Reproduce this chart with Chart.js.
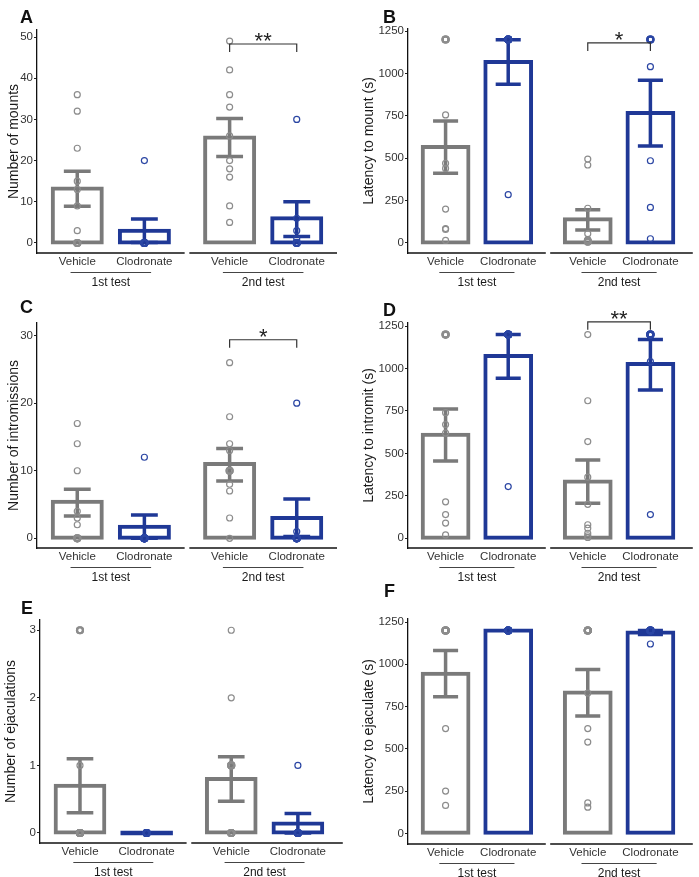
<!DOCTYPE html>
<html>
<head>
<meta charset="utf-8">
<title>Sexual behaviour after clodronate</title>
<script src="https://cdn.jsdelivr.net/npm/chart.js@4.4.1/dist/chart.umd.min.js"></script>
<style>
  body { margin: 0; background: #fff; }
  #figure { position: relative; width: 699px; height: 877px; overflow: hidden; background: #fff; }
  .panel { position: absolute; }
  .letter { position: absolute; font: bold 18px 'Liberation Sans', Arial, sans-serif; line-height: 18px; color: #111; }
</style>
</head>
<body>
<div id="figure">
  <canvas id="chartA" class="panel" width="349" height="300" style="left:0;top:0"></canvas>
  <canvas id="chartB" class="panel" width="350" height="300" style="left:349px;top:0"></canvas>
  <canvas id="chartC" class="panel" width="349" height="300" style="left:0;top:290px"></canvas>
  <canvas id="chartD" class="panel" width="350" height="300" style="left:349px;top:290px"></canvas>
  <canvas id="chartE" class="panel" width="349" height="297" style="left:0;top:580px"></canvas>
  <canvas id="chartF" class="panel" width="350" height="297" style="left:349px;top:580px"></canvas>
  <div class="letter" style="left:20px;top:8px">A</div>
  <div class="letter" style="left:383px;top:8px">B</div>
  <div class="letter" style="left:20px;top:298px">C</div>
  <div class="letter" style="left:383px;top:301px">D</div>
  <div class="letter" style="left:21px;top:599px">E</div>
  <div class="letter" style="left:384px;top:582px">F</div>
</div>
<script>
// Categories shared by every panel
const groupNames = ['Vehicle', 'Clodronate', 'Vehicle', 'Clodronate'];
const testNames = ['1st test', '2nd test'];
const groupX = [1, 2, 3.27, 4.27];

// A - number of mounts
const mountsMean = [13.2, 3.0, 25.6, 6.0];
const mountsLow = [8.9, 0.1, 21.0, 1.6];
const mountsHigh = [17.4, 5.8, 30.2, 10.0];
const mountsPoints = [
    [36, 32, 23, 15, 13, 9, 3, 0, 0, 0],
    [20, 0, 0, 0, 0, 0, 0],
    [49, 42, 36, 33, 26, 20, 18, 16, 9, 5],
    [30, 6, 3, 1, 0, 0, 0]
];
const mountsTicks = [0, 10, 20, 30, 40, 50];
const mountsSig = { y: 48.3, label: '**' };

// B - latency to mount
const latMountMean = [566, 1068, 140, 766];
const latMountLow = [412, 936, 77, 572];
const latMountHigh = [720, 1198, 196, 960];
const latMountPoints = [
    [1200, 1200, 1200, 755, 470, 440, 200, 85, 80, 15],
    [1200, 1200, 1200, 1200, 1200, 1200, 285],
    [495, 460, 205, 55, 20, 15, 10, 10, 5],
    [1200, 1200, 1200, 1040, 485, 210, 25]
];
const latencyTicks = [0, 250, 500, 750, 1000, 1250];
const latMountSig = { y: 1180, label: '*' };

// C - number of intromissions
const intromMean = [5.4, 1.7, 11.0, 3.0];
const intromLow = [3.3, 0.0, 8.5, 0.25];
const intromHigh = [7.25, 3.45, 13.3, 5.8];
const intromPoints = [
    [17, 14, 10, 4, 3, 2, 0, 0, 0],
    [12, 0, 0, 0, 0, 0, 0],
    [26, 18, 14, 13, 10, 10, 8, 7, 3, 0],
    [20, 1, 0, 0, 0, 0, 0]
];
const intromTicks = [0, 10, 20, 30];
const intromSig = { y: 29.4, label: '*' };

// D - latency to intromit
const latIntromMean = [610, 1073, 335, 1026];
const latIntromLow = [455, 943, 206, 873];
const latIntromHigh = [761, 1200, 461, 1171];
const latIntromPoints = [
    [1200, 1200, 1200, 740, 670, 620, 215, 140, 90, 20],
    [1200, 1200, 1200, 1200, 1200, 1200, 305],
    [1200, 810, 570, 360, 200, 80, 60, 30, 15, 5],
    [1200, 1200, 1200, 1200, 1200, 1040, 140]
];
const latIntromSig = { y: 1275, label: '**' };

// E - number of ejaculations
const ejacMean = [0.7, 0, 0.8, 0.14];
const ejacLow = [0.3, 0, 0.47, 0];
const ejacHigh = [1.1, 0, 1.13, 0.29];
const ejacPoints = [
    [3, 3, 1, 0, 0, 0, 0, 0, 0, 0],
    [0, 0, 0, 0, 0, 0, 0],
    [3, 2, 1, 1, 1, 0, 0, 0, 0, 0],
    [1, 0, 0, 0, 0, 0, 0]
];
const ejacTicks = [0, 1, 2, 3];

// F - latency to ejaculate
const latEjacMean = [944, 1200, 833, 1188];
const latEjacLow = [808, 1200, 694, 1177];
const latEjacHigh = [1082, 1200, 970, 1200];
const latEjacPoints = [
    [1200, 1200, 1200, 1200, 1200, 1200, 1200, 620, 250, 165],
    [1200, 1200, 1200, 1200, 1200, 1200, 1200],
    [1200, 1200, 1200, 1200, 1200, 830, 620, 540, 180, 155],
    [1200, 1200, 1200, 1200, 1200, 1200, 1120]
];

// Colours
const barColors = ['#7a7a7a', '#1f3896', '#7a7a7a', '#1f3896'];
const dotColors = ['#8c8c8c', '#2a45a3', '#8c8c8c', '#2a45a3'];
const axisColor = '#111';
const textColor = '#1a1a1a';

Chart.defaults.font.family = "'Liberation Sans', Arial, Helvetica, sans-serif";

// Layout of each panel (pixel placement, kept apart from the data)
const panels = [
    { id: 'chartA', title: 'Number of mounts', mean: mountsMean, low: mountsLow, high: mountsHigh,
      points: mountsPoints, ticks: mountsTicks, sig: mountsSig,
      yMin: -2.43, yMax: 51.7, xMax: 4.87, pad: { left: 6, top: 30, right: 12 }, left: 37, bottom: 253 },
    { id: 'chartB', title: 'Latency to mount (s)', mean: latMountMean, low: latMountLow, high: latMountHigh,
      points: latMountPoints, ticks: latencyTicks, sig: latMountSig,
      yMin: -59, yMax: 1262, xMax: 4.947, pad: { left: 12, top: 29, right: 0 }, left: 59, bottom: 253 },
    { id: 'chartC', title: 'Number of intromissions', mean: intromMean, low: intromLow, high: intromHigh,
      points: intromPoints, ticks: intromTicks, sig: intromSig,
      yMin: -1.44, yMax: 31.88, xMax: 4.87, pad: { left: 6, top: 33, right: 12 }, left: 37, bottom: 258 },
    { id: 'chartD', title: 'Latency to intromit (s)', mean: latIntromMean, low: latIntromLow, high: latIntromHigh,
      points: latIntromPoints, ticks: latencyTicks, sig: latIntromSig,
      yMin: -57, yMax: 1268, xMax: 4.947, pad: { left: 12, top: 33, right: 0 }, left: 59, bottom: 258 },
    { id: 'chartE', title: 'Number of ejaculations', mean: ejacMean, low: ejacLow, high: ejacHigh,
      points: ejacPoints, ticks: ejacTicks, sig: null,
      yMin: -0.148, yMax: 3.152, xMax: 4.944, pad: { left: 3, top: 40, right: 0 }, left: 40, bottom: 263 },
    { id: 'chartF', title: 'Latency to ejaculate (s)', mean: latEjacMean, low: latEjacLow, high: latEjacHigh,
      points: latEjacPoints, ticks: latencyTicks, sig: null,
      yMin: -63, yMax: 1268, xMax: 4.947, pad: { left: 12, top: 39, right: 0 }, left: 59, bottom: 264 }
];

// Error bars, drawn right after the bars so the dots sit on top
function errorBarPlugin(p) {
    return {
        id: 'errorBars',
        afterDatasetDraw(chart, args) {
            if (args.index !== 0) return;
            const ctx = chart.ctx;
            const xs = chart.scales.x;
            const ys = chart.scales.y;
            ctx.save();
            ctx.lineWidth = 3.5;
            p.low.forEach((lo, i) => {
                const hi = p.high[i];
                if (hi === lo) return;
                const cx = xs.getPixelForValue(groupX[i]);
                const half = xs.getPixelForValue(groupX[i] + 0.2) - cx;
                const y1 = ys.getPixelForValue(lo);
                const y2 = ys.getPixelForValue(hi);
                ctx.strokeStyle = barColors[i];
                ctx.beginPath();
                ctx.moveTo(cx, y1);
                ctx.lineTo(cx, y2);
                ctx.moveTo(cx - half, y1);
                ctx.lineTo(cx + half, y1);
                ctx.moveTo(cx - half, y2);
                ctx.lineTo(cx + half, y2);
                ctx.stroke();
            });
            ctx.restore();
        }
    };
}

// Broken x axis, test labels underneath and the significance bracket
function facetPlugin(p) {
    return {
        id: 'facets',
        afterDraw(chart) {
            const ctx = chart.ctx;
            const xs = chart.scales.x;
            const ys = chart.scales.y;
            const base = chart.chartArea.bottom;
            const facets = [[0.4, 2.6], [2.67, p.xMax]];
            const unders = [[0.9, 2.1], [3.17, 4.37]];
            ctx.save();
            ctx.strokeStyle = axisColor;
            ctx.lineWidth = 1.3;
            facets.forEach(f => {
                ctx.beginPath();
                ctx.moveTo(xs.getPixelForValue(f[0]), base);
                ctx.lineTo(xs.getPixelForValue(f[1]), base);
                ctx.stroke();
            });
            ctx.strokeStyle = '#444';
            ctx.lineWidth = 1;
            ctx.fillStyle = textColor;
            ctx.font = "12px 'Liberation Sans', Arial, sans-serif";
            ctx.textAlign = 'center';
            ctx.textBaseline = 'middle';
            unders.forEach((u, i) => {
                const a = xs.getPixelForValue(u[0]);
                const b = xs.getPixelForValue(u[1]);
                ctx.beginPath();
                ctx.moveTo(a, base + 19.5);
                ctx.lineTo(b, base + 19.5);
                ctx.stroke();
                ctx.fillText(testNames[i], (a + b) / 2, base + 29.5);
            });
            if (p.sig) {
                const a = xs.getPixelForValue(groupX[2]);
                const b = xs.getPixelForValue(groupX[3]);
                const y = ys.getPixelForValue(p.sig.y);
                ctx.strokeStyle = '#333';
                ctx.lineWidth = 1.2;
                ctx.beginPath();
                ctx.moveTo(a, y + 8);
                ctx.lineTo(a, y);
                ctx.lineTo(b, y);
                ctx.lineTo(b, y + 8);
                ctx.stroke();
                ctx.font = "22px 'Liberation Sans', Arial, sans-serif";
                ctx.textBaseline = 'alphabetic';
                ctx.fillStyle = '#222';
                ctx.fillText(p.sig.label, (a + b) / 2, y + 4);
            }
            ctx.restore();
        }
    };
}

function makeChart(p) {
    const canvas = document.getElementById(p.id);
    const dots = [];
    p.points.forEach((vals, g) => {
        vals.forEach(v => {
            const same = vals.filter(w => w === v).length;
            dots.push({ x: groupX[g], y: v, g: g, n: same });
        });
    });

    return new Chart(canvas.getContext('2d'), {
        type: 'bar',
        data: {
            datasets: [
                {
                    type: 'bar',
                    data: p.mean.map((m, i) => ({ x: groupX[i], y: m })),
                    backgroundColor: c => p.mean[c.dataIndex] === 0 ? barColors[c.dataIndex] : '#ffffff',
                    borderColor: c => barColors[c.dataIndex],
                    borderWidth: 4,
                    borderSkipped: false,
                    inflateAmount: 2,
                    minBarLength: 1,
                    barPercentage: 0.73,
                    categoryPercentage: 1,
                    order: 2
                },
                {
                    type: 'scatter',
                    data: dots,
                    pointRadius: 3,
                    pointBorderWidth: c => (c.raw && c.raw.n > 1) ? 2.2 : 1.2,
                    pointBorderColor: c => c.raw ? dotColors[c.raw.g] : '#888',
                    pointBackgroundColor: 'rgba(0,0,0,0)',
                    order: 1
                }
            ]
        },
        options: {
            responsive: false,
            animation: false,
            devicePixelRatio: 1,
            events: [],
            layout: { padding: { left: p.pad.left, top: p.pad.top, right: p.pad.right, bottom: 0 } },
            plugins: {
                legend: { display: false },
                tooltip: { enabled: false }
            },
            scales: {
                x: {
                    type: 'linear',
                    min: 0.4,
                    max: p.xMax,
                    offset: false,
                    afterBuildTicks: s => { s.ticks = groupX.map(v => ({ value: v })); },
                    afterFit: s => { s.height = canvas.height - p.bottom; },
                    ticks: {
                        callback: (v, i) => groupNames[i],
                        font: { size: 11.5 },
                        color: '#333',
                        padding: 2,
                        autoSkip: false,
                        maxRotation: 0
                    },
                    grid: { display: false, drawTicks: false },
                    border: { display: false }
                },
                y: {
                    min: p.yMin,
                    max: p.yMax,
                    afterBuildTicks: s => { s.ticks = p.ticks.map(v => ({ value: v })); },
                    afterFit: s => { s.width = p.left - p.pad.left; },
                    ticks: { callback: v => String(v), font: { size: 11.5 }, color: '#333', padding: 1 },
                    grid: { drawOnChartArea: false, tickLength: 3, color: '#222', lineWidth: 1 },
                    border: { color: axisColor, width: 1.3 },
                    title: {
                        display: true,
                        text: p.title,
                        font: { size: 14 },
                        color: textColor,
                        padding: 0
                    }
                }
            }
        },
        plugins: [errorBarPlugin(p), facetPlugin(p)]
    });
}

document.addEventListener('DOMContentLoaded', function () {
    panels.forEach(makeChart);
});
</script>
</body>
</html>
